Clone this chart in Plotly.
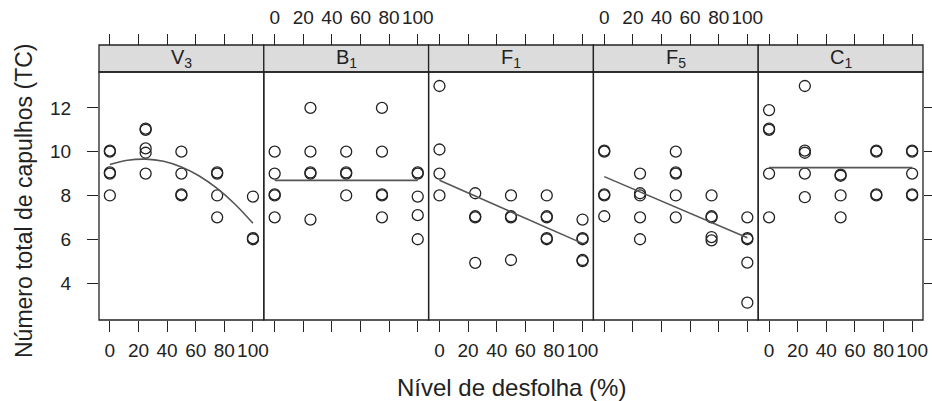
import plotly.graph_objects as go

# ---------------- data ----------------
panels = ["V<sub>3</sub>", "B<sub>1</sub>", "F<sub>1</sub>", "F<sub>5</sub>", "C<sub>1</sub>"]

v3_x = [0, 0, 0, 0, 0, 25, 25, 25, 25, 25, 50, 50, 50, 50, 75, 75, 75, 75, 100, 100, 100]
v3_y = [10, 10.05, 9, 9.05, 8, 11, 11.05, 10.15, 9.95, 9, 10, 9, 8, 8.05, 9, 9.05, 8, 7, 7.95, 6, 6.05]

b1_x = [0, 0, 0, 0, 0, 25, 25, 25, 25, 25, 50, 50, 50, 50, 75, 75, 75, 75, 75, 100, 100, 100, 100, 100]
b1_y = [10, 9, 8, 8.05, 7, 12, 10, 9, 9.05, 6.9, 10, 9, 9.05, 8, 12, 10, 8, 8.05, 7, 9, 9.05, 7.95, 7.1, 6]

f1_x = [0, 0, 0, 0, 25, 25, 25, 25, 50, 50, 50, 50, 75, 75, 75, 75, 75, 100, 100, 100, 100, 100]
f1_y = [13, 10.1, 9, 8, 8.1, 7, 7.05, 4.92, 8, 7, 7.05, 5.05, 8, 7, 7.05, 6, 6.05, 6.9, 6, 6.05, 5, 5.05]

f5_x = [0, 0, 0, 0, 0, 25, 25, 25, 25, 25, 50, 50, 50, 50, 50, 75, 75, 75, 75, 75, 100, 100, 100, 100, 100]
f5_y = [10, 10.05, 8, 8.05, 7.05, 9, 8, 8.1, 7, 6, 10, 9, 9.05, 8, 7, 8, 7, 7.05, 6.1, 5.95, 7, 6, 6.05, 4.93, 3.1]

c1_x = [0, 0, 0, 0, 0, 25, 25, 25, 25, 25, 50, 50, 50, 50, 75, 75, 75, 75, 100, 100, 100, 100, 100]
c1_y = [11.9, 11, 11.05, 9, 7, 13, 10.05, 9.95, 9, 7.92, 8.9, 8.95, 8, 7, 10, 10.05, 8, 8.05, 10, 10.05, 9, 8, 8.05]

# fitted curves
v3_fit_x = [0, 12.5, 25, 37.5, 50, 62.5, 75, 87.5, 100]
v3_fit_y = [9.41, 9.61, 9.66, 9.56, 9.30, 8.89, 8.32, 7.60, 6.73]
b1_fit_x = [0, 100]
b1_fit_y = [8.69, 8.69]
f1_fit_x = [0, 100]
f1_fit_y = [8.69, 5.81]
f5_fit_x = [0, 100]
f5_fit_y = [8.86, 6.07]
c1_fit_x = [0, 100]
c1_fit_y = [9.27, 9.27]

x_ticks = [0, 20, 40, 60, 80, 100]
y_ticks = [4, 6, 8, 10, 12]

points = [(v3_x, v3_y), (b1_x, b1_y), (f1_x, f1_y), (f5_x, f5_y), (c1_x, c1_y)]
fits = [(v3_fit_x, v3_fit_y), (b1_fit_x, b1_fit_y), (f1_fit_x, f1_fit_y),
        (f5_fit_x, f5_fit_y), (c1_fit_x, c1_fit_y)]

# ---------------- layout geometry ----------------
W, H = 932, 401
left_px, right_px = 99, 923
plot_top_px, plot_bot_px, strip_top_px = 72, 320, 45
pw = (right_px - left_px) / 5
FONT = "Liberation Sans, Arial, Helvetica, sans-serif"
INK = "#222222"
TICKFONT = dict(size=19, family=FONT, color=INK)

def px_x(v):
    return v / W

def px_y(v):
    return 1 - v / H

xrange_ = [-7.6, 107.6]
yrange_ = [2.31, 13.64]

fig = go.Figure()
layout = dict(
    width=W, height=H, margin=dict(l=0, r=0, t=0, b=0, autoexpand=False),
    paper_bgcolor="white", plot_bgcolor="white", showlegend=False,
    font=dict(family=FONT, color=INK, size=18),
)

shapes = []
annotations = []
for i in range(5):
    x0 = px_x(left_px + pw * i)
    x1 = px_x(left_px + pw * (i + 1))
    ax = "x" if i == 0 else f"x{i+1}"
    key = "xaxis" if i == 0 else f"xaxis{i+1}"
    bottom_labels = (i % 2 == 0)
    layout[key] = dict(
        domain=[x0, x1], range=xrange_, anchor="y", side="bottom",
        tickmode="array", tickvals=x_ticks, ticks="outside", ticklen=11,
        tickwidth=1.2, tickcolor=INK, showticklabels=bottom_labels,
        tickfont=TICKFONT, ticklabelstandoff=2,
        showgrid=False, zeroline=False, showline=False, fixedrange=True,
    )
    tax = f"x{i+6}"
    tkey = f"xaxis{i+6}"
    layout[tkey] = dict(
        domain=[x0, x1], range=xrange_, overlaying=ax, anchor="free",
        position=px_y(strip_top_px), side="top",
        tickmode="array", tickvals=x_ticks, ticks="outside", ticklen=11,
        tickwidth=1.2, tickcolor=INK, showticklabels=not bottom_labels,
        tickfont=TICKFONT, ticklabelstandoff=2,
        showgrid=False, zeroline=False, showline=False, fixedrange=True,
    )
    px_, py_ = points[i]
    fig.add_trace(go.Scatter(
        x=px_, y=py_, xaxis=ax, yaxis="y", mode="markers",
        marker=dict(symbol="circle-open", size=11, color=INK, line=dict(width=1.3, color=INK)),
        hoverinfo="skip",
    ))
    fx, fy = fits[i]
    fig.add_trace(go.Scatter(
        x=fx, y=fy, xaxis=ax, yaxis="y", mode="lines",
        line=dict(color="#555555", width=1.6, shape="spline"), hoverinfo="skip",
    ))
    # invisible trace so that the top axis is drawn
    fig.add_trace(go.Scatter(
        x=fx, y=fy, xaxis=tax, yaxis="y", mode="lines",
        line=dict(color="rgba(0,0,0,0)", width=0), hoverinfo="skip",
    ))
    # strip
    shapes.append(dict(type="rect", xref="paper", yref="paper",
                       x0=x0, x1=x1, y0=px_y(plot_top_px), y1=px_y(strip_top_px),
                       fillcolor="#dcdcdc", line=dict(color=INK, width=1.3), layer="below"))
    # panel frame
    shapes.append(dict(type="rect", xref="paper", yref="paper",
                       x0=x0, x1=x1, y0=px_y(plot_bot_px), y1=px_y(plot_top_px),
                       line=dict(color=INK, width=1.3), layer="above"))
    annotations.append(dict(
        text=panels[i], xref="paper", yref="paper",
        x=(x0 + x1) / 2, y=px_y((strip_top_px + plot_top_px) / 2),
        xanchor="center", yanchor="middle", showarrow=False,
        font=dict(size=20, family=FONT, color=INK),
    ))

# invisible trace for right-hand y ticks
fig.add_trace(go.Scatter(
    x=c1_fit_x, y=c1_fit_y, xaxis="x5", yaxis="y2", mode="lines",
    line=dict(color="rgba(0,0,0,0)", width=0), hoverinfo="skip",
))

layout["yaxis"] = dict(
    domain=[px_y(plot_bot_px), px_y(plot_top_px)], range=yrange_, anchor="x",
    side="left", tickmode="array", tickvals=y_ticks, ticks="outside", ticklen=11,
    tickwidth=1.2, tickcolor=INK, tickfont=TICKFONT,
    ticklabelstandoff=12, showgrid=False, zeroline=False, showline=False, fixedrange=True,
)
layout["yaxis2"] = dict(
    domain=[px_y(plot_bot_px), px_y(plot_top_px)], range=yrange_, anchor="x5",
    overlaying="y", side="right", tickmode="array", tickvals=y_ticks,
    ticks="outside", ticklen=11, tickwidth=1.2, tickcolor=INK, showticklabels=False,
    showgrid=False, zeroline=False, showline=False, fixedrange=True,
)

annotations.append(dict(
    text="Nível de desfolha (%)", xref="paper", yref="paper",
    x=px_x(511), y=px_y(387), xanchor="center", yanchor="middle", showarrow=False,
    font=dict(size=24, family=FONT, color=INK),
))
annotations.append(dict(
    text="Número total de capulhos (TC)", xref="paper", yref="paper",
    x=px_x(24), y=px_y(201), xanchor="center", yanchor="middle", showarrow=False,
    textangle=-90, font=dict(size=23, family=FONT, color=INK),
))

layout["shapes"] = shapes
layout["annotations"] = annotations
fig.update_layout(**layout)
fig.write_html(
    "out.html",
    config={"displayModeBar": False},
    post_script="document.body.style.margin='0';document.body.style.padding='0';",
)
